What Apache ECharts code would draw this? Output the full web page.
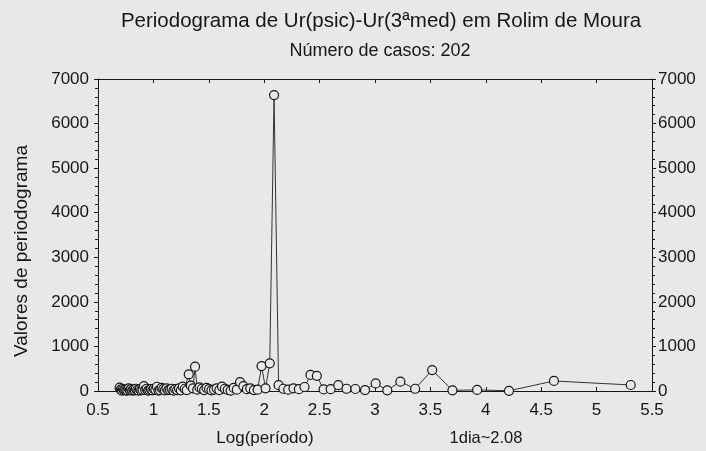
<!DOCTYPE html>
<html>
<head>
<meta charset="utf-8">
<script src="https://cdn.jsdelivr.net/npm/echarts/dist/echarts.min.js"></script>
<style>
  html, body { margin: 0; padding: 0; background: #e8e8e6; }
  #main { width: 706px; height: 451px; }
</style>
</head>
<body>
<div id="main"></div>
<script>
// log(periodo) de cada frequencia, em ordem crescente
var logPeriodo = [
  0.695, 0.705, 0.715, 0.725, 0.735, 0.746, 0.756, 0.766, 0.777, 0.788,
  0.798, 0.809, 0.821, 0.832, 0.843, 0.855, 0.866, 0.878, 0.890, 0.902,
  0.914, 0.926, 0.939, 0.952, 0.964, 0.978, 0.991, 1.004, 1.018, 1.032,
  1.046, 1.060, 1.074, 1.089, 1.103, 1.118, 1.134, 1.149, 1.165, 1.181,
  1.197, 1.214, 1.231, 1.248, 1.265, 1.283, 1.301, 1.319, 1.338, 1.357,
  1.376, 1.396, 1.416, 1.437, 1.458, 1.480, 1.502, 1.524, 1.547, 1.571,
  1.595, 1.619, 1.645, 1.671, 1.697, 1.725, 1.753, 1.782, 1.812, 1.843,
  1.874, 1.907, 1.941, 1.976, 2.012, 2.050, 2.089, 2.130, 2.173, 2.217,
  2.264, 2.313, 2.364, 2.418, 2.475, 2.536, 2.600, 2.669, 2.743, 2.823,
  2.910, 3.006, 3.111, 3.229, 3.362, 3.516, 3.699, 3.922, 4.209, 4.615,
  5.308
];
// valores de periodograma
var valores = [
  75, 30, 10, 45, 20, 30, 10, 15, 60, 20,
  40, 10, 30, 15, 50, 20, 10, 40, 15, 30,
  110, 25, 50, 10, 20, 40, 15, 50, 30, 95,
  10, 25, 70, 40, 15, 60, 20, 30, 50, 10,
  40, 20, 60, 15, 100, 50, 20, 375, 120, 60,
  545, 30, 80, 50, 20, 70, 40, 15, 30, 60,
  20, 100, 50, 25, 10, 70, 30, 200, 110, 40,
  60, 20, 30, 560, 60, 620, 6640, 130, 50, 30,
  60, 40, 90, 360, 340, 35, 40, 130, 50, 45,
  20, 170, 15, 210, 50, 470, 15, 25, 5, 225,
  135
];
var xTicks = [0.5, 1, 1.5, 2, 2.5, 3, 3.5, 4, 4.5, 5, 5.5];
var yTicks = [0, 1000, 2000, 3000, 4000, 5000, 6000, 7000];

var fundo = '#e8e8e6';
var tinta = '#161616';
var fonte = '"Liberation Sans", Arial, sans-serif';

var chart = echarts.init(document.getElementById('main'));

var pontos = logPeriodo.map(function (x, i) { return [x, valores[i]]; });

function eixoX(pos) {
  return {
    type: 'value',
    position: pos,
    min: xTicks[0],
    max: xTicks[xTicks.length - 1],
    interval: 0.5,
    axisLine: { show: true, onZero: false, lineStyle: { color: tinta, width: 1 } },
    axisTick: { show: true, inside: true, length: 4, lineStyle: { color: tinta } },
    axisLabel: {
      show: pos === 'bottom',
      color: tinta, fontSize: 17, fontFamily: fonte, margin: 11,
      formatter: function (v) { return String(v); }
    },
    splitLine: { show: false }
  };
}

function eixoY(pos) {
  return {
    type: 'value',
    position: pos,
    min: yTicks[0],
    max: yTicks[yTicks.length - 1],
    interval: 1000,
    axisLine: { show: true, lineStyle: { color: tinta, width: 1 } },
    axisTick: { show: true, length: 4, lineStyle: { color: tinta } },
    minorTick: { show: true, splitNumber: 5, length: 3, lineStyle: { color: tinta } },
    axisLabel: {
      color: tinta, fontSize: 17, fontFamily: fonte,
      margin: pos === 'left' ? 9 : 6,
      formatter: function (v) { return String(v); }
    },
    splitLine: { show: false }
  };
}

var option = {
  backgroundColor: fundo,
  animation: false,
  title: [
    {
      text: 'Periodograma de Ur(psic)-Ur(3ªmed) em Rolim de Moura',
      left: 376, top: 6, textAlign: 'center',
      textStyle: { fontSize: 20.5, fontWeight: 'normal', color: tinta, fontFamily: fonte }
    },
    {
      text: 'Número de casos: 202',
      left: 375, top: 37, textAlign: 'center',
      textStyle: { fontSize: 18, fontWeight: 'normal', color: tinta, fontFamily: fonte }
    }
  ],
  grid: { left: 98, right: 54, top: 79, bottom: 60 },
  xAxis: [eixoX('bottom'), eixoX('top')],
  yAxis: [eixoY('left'), eixoY('right')],
  graphic: [
    {
      type: 'text', x: 265, y: 438,
      style: {
        text: 'Log(período)', fill: tinta, font: '17px ' + fonte,
        align: 'center', verticalAlign: 'middle'
      }
    },
    {
      type: 'text', x: 486, y: 438,
      style: {
        text: '1dia~2.08', fill: tinta, font: '16.5px ' + fonte,
        align: 'center', verticalAlign: 'middle'
      }
    },
    {
      type: 'text', x: 22, y: 251, rotation: Math.PI / 2,
      style: {
        text: 'Valores de periodograma', fill: tinta, font: '19px ' + fonte,
        align: 'center', verticalAlign: 'middle'
      }
    }
  ],
  series: [
    {
      type: 'line',
      data: pontos,
      xAxisIndex: 0,
      yAxisIndex: 0,
      symbol: 'circle',
      symbolSize: 9,
      showAllSymbol: true,
      lineStyle: { color: '#333', width: 1 },
      itemStyle: { color: fundo, borderColor: tinta, borderWidth: 1.2 }
    }
  ]
};

chart.setOption(option);
</script>
</body>
</html>
